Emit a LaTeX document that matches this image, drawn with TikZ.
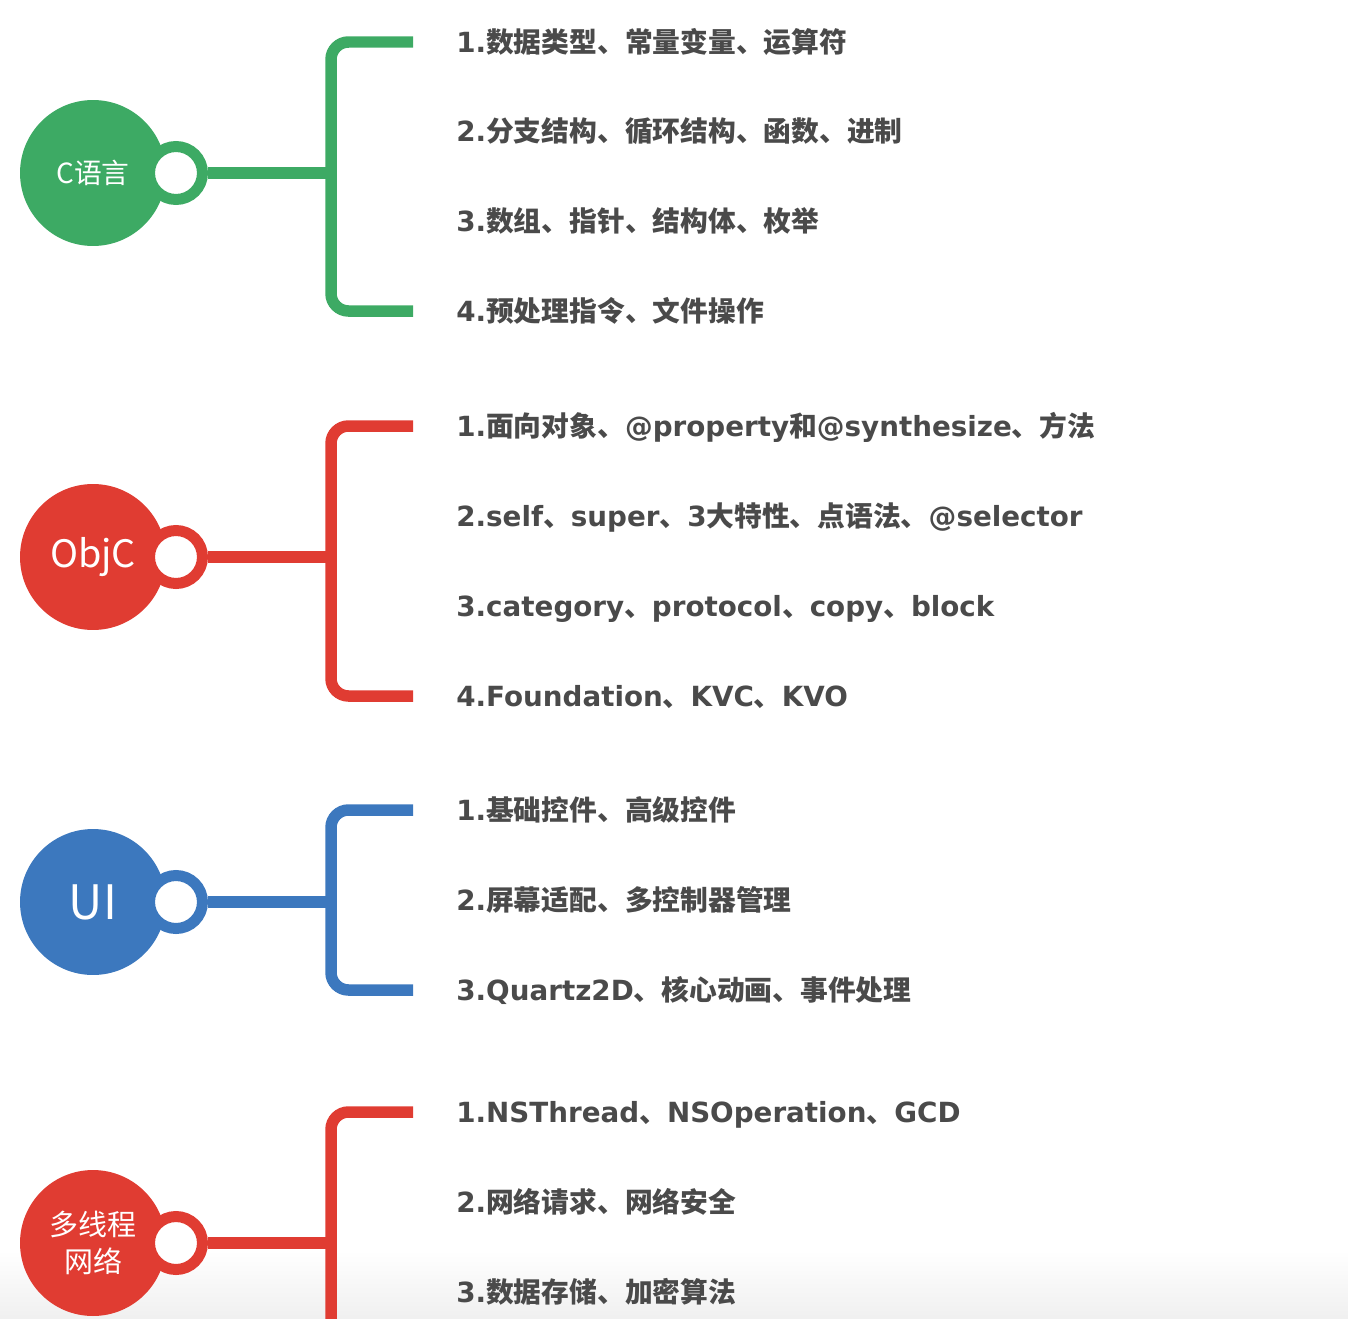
\documentclass[tikz,border=0pt]{standalone}
\usepackage{fontspec}
\setmainfont{Noto Sans CJK SC}
\newfontfamily\ltnfont{DejaVu Sans}
\newcommand{\ltn}[1]{{\ltnfont\bfseries #1}}
\usepackage{xcolor}
\definecolor{mmgreen}{RGB}{61,170,100}
\definecolor{mmred}{RGB}{224,60,50}
\definecolor{mmblue}{RGB}{60,120,190}
\definecolor{mmtext}{RGB}{74,74,74}

\begin{document}
\begin{tikzpicture}[x=0.02cm, y=-0.02cm,
    topic/.style={circle, fill=#1, text=white, minimum size=2.92cm,
        inner sep=0pt, align=center, font=\fontsize{15.8}{21}\selectfont},
    ring/.style={circle, draw=#1, fill=white, line width=0.22cm,
        minimum size=1.06cm, inner sep=0pt},
    item/.style={anchor=west, inner xsep=0.86cm, inner ysep=0pt,
        text height=13.4pt, text depth=1.9pt,
        text=mmtext, font=\bfseries\fontsize{15.8}{19}\selectfont},
    branch/.style={line width=0.23cm, draw=#1, rounded corners=0.35cm}
]
    \useasboundingbox (0,0) rectangle (1348,1318);
    % faint shadow at the bottom edge
    \fill[top color=white, bottom color=black!6] (0,1250) rectangle (1348,1318);

    % C language
    \node[topic=mmgreen] (c) at (93,173) {C语言};
    \node[ring=mmgreen] (cr) at (176,173) {};
    \coordinate (cj) at (331,173);
    \node[item] (c1) at (413,42) {\ltn{1.}数据类型、常量变量、运算符};
    \node[item] (c2) at (413,131) {\ltn{2.}分支结构、循环结构、函数、进制};
    \node[item] (c3) at (413,221) {\ltn{3.}数组、指针、结构体、枚举};
    \node[item] (c4) at (413,311) {\ltn{4.}预处理指令、文件操作};
    \draw[branch=mmgreen] (cr.east) -- (cj);
    \draw[branch=mmgreen] (c1.west) -| (cj) |- (c4.west);

    % Objective-C
    \node[topic=mmred, font=\fontsize{21.5}{24}\selectfont] (oc) at (93,557) {ObjC};
    \node[ring=mmred] (ocr) at (176,557) {};
    \coordinate (ocj) at (331,557);
    \node[item] (oc1) at (413,426) {\ltn{1.}面向对象、\ltn{@property}和\ltn{@synthesize}、方法};
    \node[item] (oc2) at (413,516) {\ltn{2.self}、\ltn{super}、\ltn{3}大特性、点语法、\ltn{@selector}};
    \node[item] (oc3) at (413,606) {\ltn{3.category}、\ltn{protocol}、\ltn{copy}、\ltn{block}};
    \node[item] (oc4) at (413,696) {\ltn{4.Foundation}、\ltn{KVC}、\ltn{KVO}};
    \draw[branch=mmred] (ocr.east) -- (ocj);
    \draw[branch=mmred] (oc1.west) -| (ocj) |- (oc4.west);

    % UI
    \node[topic=mmblue, font=\fontsize{27}{30}\selectfont] (ui) at (93,902) {UI};
    \node[ring=mmblue] (uir) at (176,902) {};
    \coordinate (uij) at (331,902);
    \node[item] (ui1) at (413,810) {\ltn{1.}基础控件、高级控件};
    \node[item] (ui2) at (413,900) {\ltn{2.}屏幕适配、多控制器管理};
    \node[item] (ui3) at (413,990) {\ltn{3.Quartz2D}、核心动画、事件处理};
    \draw[branch=mmblue] (uir.east) -- (uij);
    \draw[branch=mmblue] (ui1.west) -| (uij) |- (ui3.west);

    % threads and network
    \node[topic=mmred, font=\fontsize{16.5}{21}\selectfont] (mt) at (93,1243) {多线程\\网络};
    \node[ring=mmred] (mtr) at (176,1243) {};
    \coordinate (mtj) at (331,1243);
    \coordinate (mtend) at (331,1340);
    \node[item] (mt1) at (413,1112) {\ltn{1.NSThread}、\ltn{NSOperation}、\ltn{GCD}};
    \node[item] (mt2) at (413,1202) {\ltn{2.}网络请求、网络安全};
    \node[item] (mt3) at (413,1292) {\ltn{3.}数据存储、加密算法};
    \draw[branch=mmred] (mtr.east) -- (mtj);
    \draw[branch=mmred] (mt1.west) -| (mtend);
\end{tikzpicture}
\end{document}
